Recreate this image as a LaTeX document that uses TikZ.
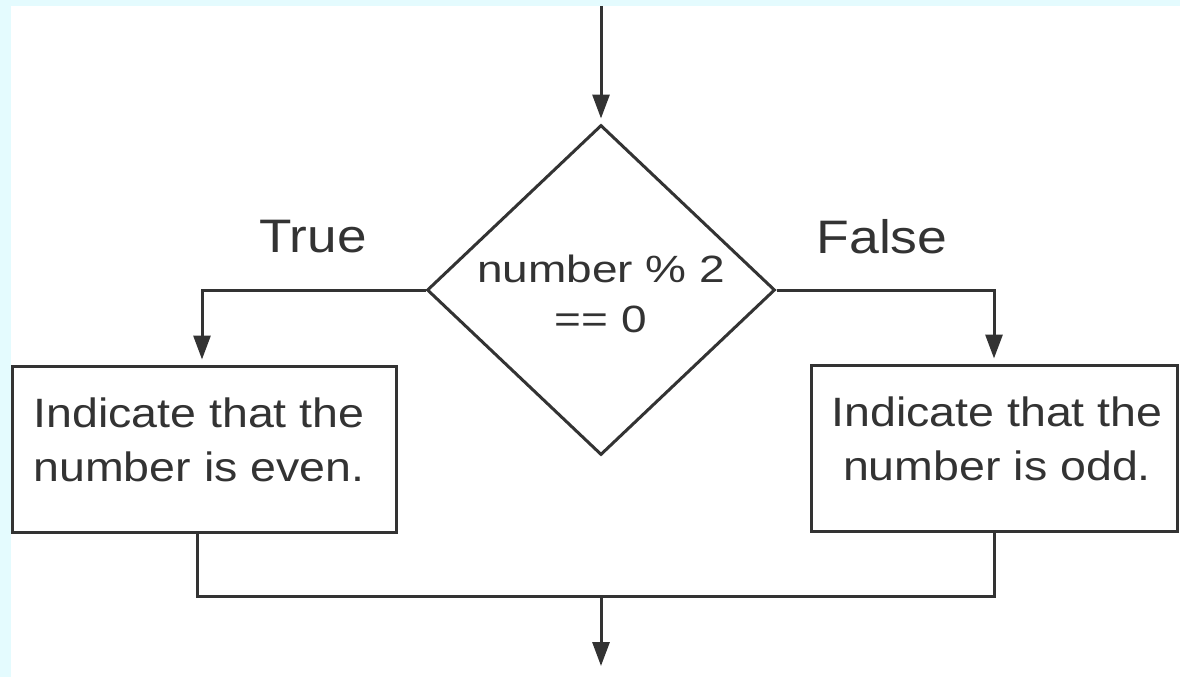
\documentclass[tikz,border=0pt]{standalone}
\usepackage{fontspec}
\usepackage{graphicx}
\setmainfont{Liberation Sans}
\usetikzlibrary{arrows.meta,shapes.geometric}
\definecolor{bgcyan}{HTML}{E4FBFE}
\definecolor{ink}{HTML}{333333}
\newcommand\placetext[4]{\makebox[0pt]{\hspace*{\dimexpr 2\dimexpr#1\relax\relax}\raisebox{#2}[0pt][0pt]{\scalebox{#3}[1]{\begin{tabular}{@{}c@{}}#4\end{tabular}}}}}
\tikzset{
  x=1pt,y=-1pt,
  flow/.style={draw=ink,line width=3pt},
  arr/.style={flow,-{Triangle[length=24pt,width=17pt]},shorten >=5pt},
  procbox/.style={draw=ink,line width=3pt,fill=white,minimum width=384pt,minimum height=166pt,inner sep=0pt,text=ink,font=\fontsize{41}{54}\selectfont},
  decision/.style={diamond,draw=ink,line width=3pt,fill=white,minimum width=348pt,minimum height=330pt,inner sep=0pt,text=ink,font=\fontsize{38}{50}\selectfont},
  lbl/.style={text=ink,inner sep=0pt,font=\fontsize{47}{56}\selectfont}
}
\begin{document}
\begin{tikzpicture}
\useasboundingbox (0,0) rectangle (1180,677);
\fill[bgcyan] (0,0) rectangle (1180,677);
\fill[white] (11,6) rectangle (1180,677);
\coordinate (top) at (601,6);
\node[decision] (dec) at (601,290) {\placetext{0pt}{-14pt}{1.21}{number \% 2\\== 0}};
\node[procbox] (even) at (204,449) {\placetext{-5pt}{-1pt}{1.135}{Indicate that the\\number is even.}};
\node[procbox,minimum width=366pt] (odd) at (994,448) {\placetext{3pt}{-1pt}{1.135}{Indicate that the\\number is odd.}};
\node[lbl] (ltrue) at (313,237) {\scalebox{1.13}[1]{True}};
\node[lbl] (lfalse) at (882,237) {\scalebox{1.14}[1]{False}};
\coordinate (join) at (601,596);
\coordinate (out) at (601,666);
\draw[arr] (top) -- (dec.north);
\draw[arr] (dec.west) -| ([xshift=-2pt]even.north);
\draw[arr] (dec.east) -| (odd.north);
\draw[flow] ([xshift=-7pt]even.south) |- (join) -| (odd.south);
\draw[arr,shorten >=0pt] (join) -- (out);
\end{tikzpicture}
\end{document}
